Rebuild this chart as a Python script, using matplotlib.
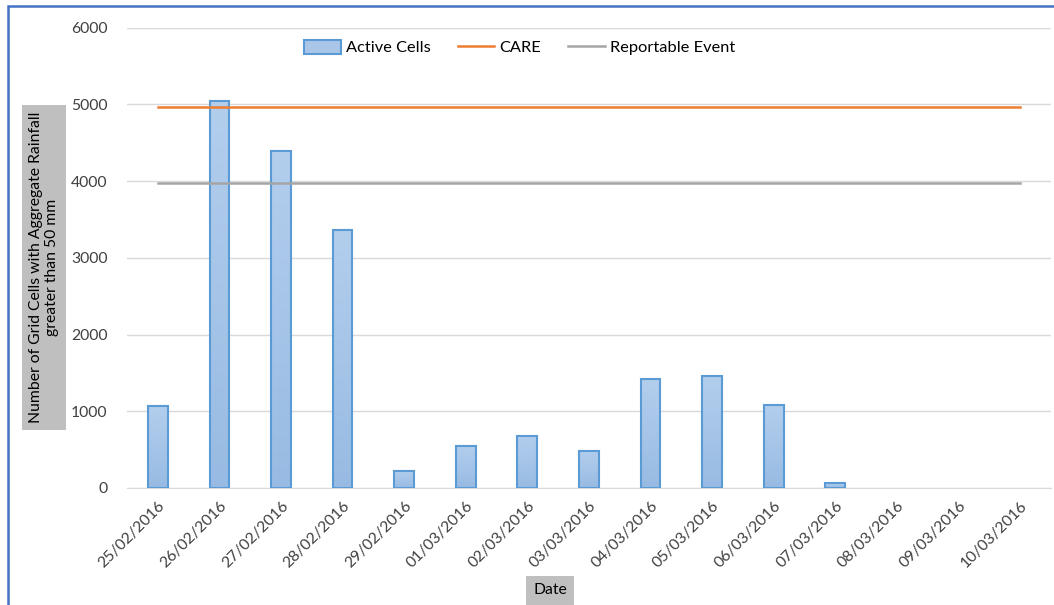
import numpy as np
import matplotlib.pyplot as plt
from matplotlib.patches import Rectangle, Patch
from matplotlib.colors import LinearSegmentedColormap

plt.rcParams['font.family'] = ['Lato', 'DejaVu Sans']

dates = ['25/02/2016', '26/02/2016', '27/02/2016', '28/02/2016', '29/02/2016',
         '01/03/2016', '02/03/2016', '03/03/2016', '04/03/2016', '05/03/2016',
         '06/03/2016', '07/03/2016', '08/03/2016', '09/03/2016', '10/03/2016']
active_cells = [1068, 5040, 4390, 3360, 222, 548, 678, 483, 1420, 1458, 1082, 65, 0, 0, 0]
care = 4970
reportable = 3970

fig = plt.figure(figsize=(10.54, 6.05), dpi=100)
ax = fig.add_axes([0.1205, 0.1934, 0.8765, 0.7611])

x = np.arange(len(dates))
bars = ax.bar(x, active_cells, width=0.32, color='#a9c6e8', edgecolor='#5b9bd5',
              linewidth=1.5, zorder=3)

# light-to-darker vertical gradient inside each bar
cmap = LinearSegmentedColormap.from_list('g', ['#98bbe3', '#b3ceed'])
grad = np.linspace(0, 1, 100).reshape(-1, 1)
for b in bars:
    if b.get_height() <= 0:
        b.set_visible(False)
        continue
    bx, by = b.get_x(), b.get_y()
    im = ax.imshow(grad, cmap=cmap, origin='lower', aspect='auto',
                   extent=[bx, bx + b.get_width(), by, by + b.get_height()], zorder=3)
    im.set_clip_path(b)
    b.set_facecolor('none')
    b.set_zorder(4)

l1, = ax.plot(x, [care] * len(x), color='#ed7d31', lw=1.8, zorder=5)
l2, = ax.plot(x, [reportable] * len(x), color='#a5a5a5', lw=1.8, zorder=5)

ax.set_xlim(-0.5, len(x) - 0.5)
ax.set_ylim(0, 6000)
ax.set_yticks(np.arange(0, 6001, 1000))
ax.yaxis.grid(True, color='#d9d9d9', lw=1, zorder=0)
for s in ['top', 'right', 'left']:
    ax.spines[s].set_visible(False)
ax.spines['bottom'].set_color('#d9d9d9')
ax.tick_params(length=0, labelsize=11.3, colors='#404040')
ax.tick_params(axis='y', pad=14)
ax.tick_params(axis='x', pad=8)
ax.set_xticks(x)
ax.set_xticklabels(dates, rotation=45, ha='right', rotation_mode='anchor')

handles = [Patch(facecolor='#a9c6e8', edgecolor='#5b9bd5', lw=1.5), l1, l2]
ax.legend(handles, ['Active Cells', 'CARE', 'Reportable Event'],
          loc='upper center', bbox_to_anchor=(0.425, 1.005), ncol=3, frameon=False,
          fontsize=11.8, handlelength=2.25, handleheight=0.9, columnspacing=1.65,
          handletextpad=0.3)

fig.text(0.0417, 0.558, 'Number of Grid Cells with Aggregate Rainfall\ngreater than 50 mm',
         rotation=90, ha='center', va='center', fontsize=11.3, color='#000000',
         linespacing=1.1,
         bbox=dict(boxstyle='square,pad=0.45', facecolor='#bfbfbf', edgecolor='none'))
fig.text(0.522, 0.024, 'Date', ha='center', va='center', fontsize=11.3,
         bbox=dict(boxstyle='square,pad=0.45', facecolor='#bfbfbf', edgecolor='none'))

fig.patches.append(Rectangle((8 / 1054, -0.1), 1.2, 1.09, transform=fig.transFigure,
                             fill=False, edgecolor='#4472c4', lw=1.8))

fig.savefig('out.png', dpi=100)
